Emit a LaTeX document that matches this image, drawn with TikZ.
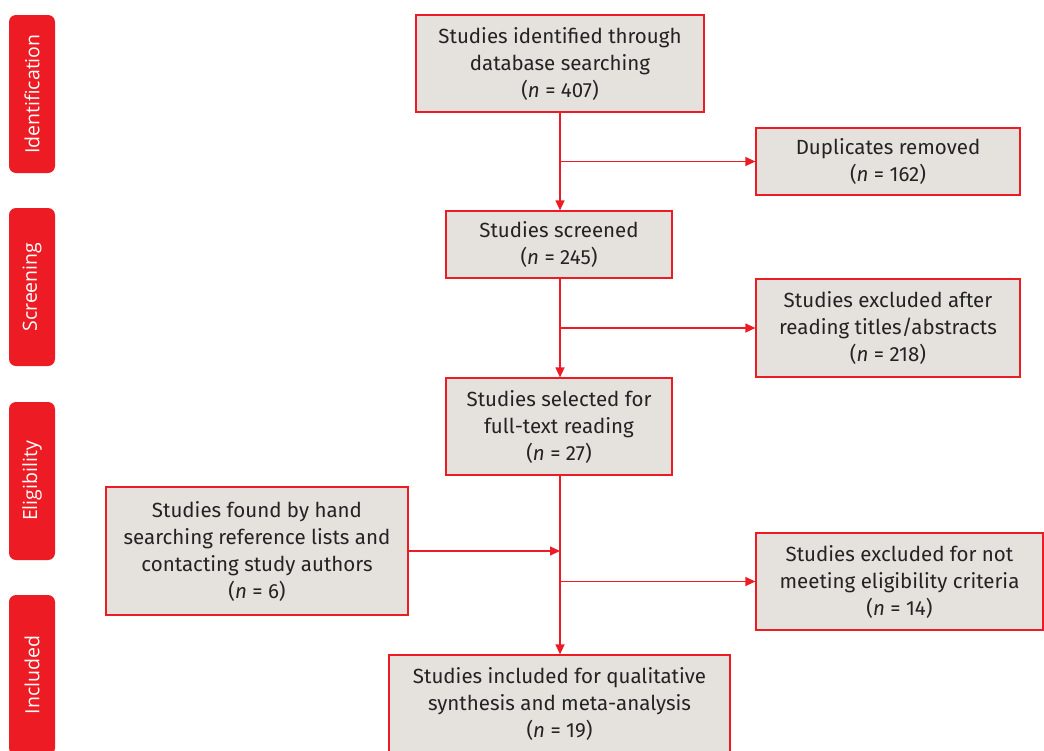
\documentclass[tikz,border=0pt]{standalone}
\usepackage{fontspec}
\setmainfont{Fira Sans}
\setsansfont{Open Sans}
\usetikzlibrary{arrows.meta}
\definecolor{pred}{RGB}{237,28,36}
\definecolor{pfill}{RGB}{229,225,221}
\definecolor{ptext}{RGB}{35,35,35}
\begin{document}
\begin{tikzpicture}[x=1pt,y=-1pt,
  boxstyle/.style={draw=pred,fill=pfill,line width=1.2pt,align=center,inner sep=0pt,
    text=ptext,font=\fontsize{20.5}{27}\selectfont},
  sidelabel/.style={fill=pred,rounded corners=7pt,minimum height=46pt,text=white,
    font=\sffamily\fontsize{19.5}{22}\selectfont,rotate=90,inner sep=0pt},
  conn/.style={draw=pred,line width=1.2pt},
  arr/.style={conn,-{Triangle[length=10pt,width=9pt]}}]
\useasboundingbox (0,0) rectangle (1044,750);
\begin{scope}
\clip (0,0) rectangle (1044,750);
% side labels
\node[sidelabel,minimum width=158pt] (lid) at (32,94) {Identification};
\node[sidelabel,minimum width=158pt] (lsc) at (32,287) {Screening};
\node[sidelabel,minimum width=158pt] (lel) at (32,481) {Eligibility};
\node[sidelabel,minimum width=160pt] (lin) at (32,675) {Included};
% boxes
\node[boxstyle,minimum width=288pt,minimum height=97pt] (top) at (560,63.5)
  {Studies identified through\\database searching\\(\textit{n} = 407)};
\node[boxstyle,minimum width=264pt,minimum height=67pt] (dup) at (888,161.5)
  {Duplicates removed\\(\textit{n} = 162)};
\node[boxstyle,minimum width=226pt,minimum height=67pt] (scr) at (559,244.5)
  {Studies screened\\(\textit{n} = 245)};
\node[boxstyle,minimum width=264pt,minimum height=98pt] (ex1) at (888,328)
  {Studies excluded after\\reading titles/abstracts\\(\textit{n} = 218)};
\node[boxstyle,minimum width=226pt,minimum height=97pt] (sel) at (559,426.5)
  {Studies selected for\\full-text reading\\(\textit{n} = 27)};
\node[boxstyle,minimum width=302pt,minimum height=128pt] (hand) at (257,551)
  {Studies found by hand\\searching reference lists and\\contacting study authors\\(\textit{n} = 6)};
\node[boxstyle,minimum width=287pt,minimum height=97pt] (ex2) at (899.5,581.5)
  {Studies excluded for not\\meeting eligibility criteria\\(\textit{n} = 14)};
\node[boxstyle,minimum width=341pt,minimum height=97pt] (inc) at (559.5,703.5)
  {Studies included for qualitative\\synthesis and meta-analysis\\(\textit{n} = 19)};
% connectors
\coordinate (b1) at (560,161.5);
\coordinate (b2) at (560,328);
\coordinate (b3) at (560,551);
\coordinate (b4) at (560,581.5);
\draw[arr] (top.south -| b1) -- (scr.north -| b1);
\draw[arr] (b1) -- (dup.west);
\draw[arr] (scr.south -| b2) -- (sel.north -| b2);
\draw[arr] (b2) -- (ex1.west);
\draw[arr] (sel.south -| b3) -- (inc.north -| b3);
\draw[arr] (hand.east) -- (b3);
\draw[arr] (b4) -- (ex2.west);
\end{scope}
\end{tikzpicture}
\end{document}
